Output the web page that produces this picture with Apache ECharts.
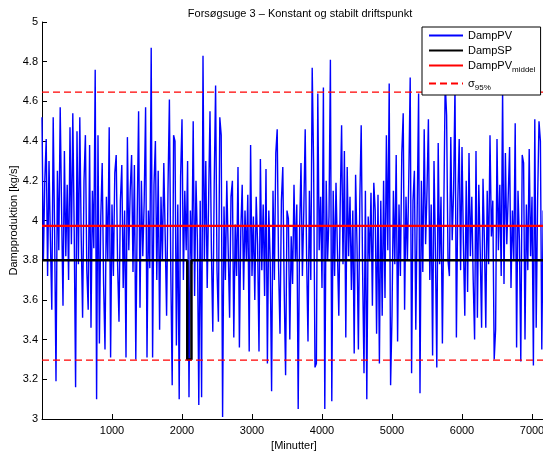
<!DOCTYPE html>
<html>
<head>
<meta charset="utf-8">
<script src="https://cdn.jsdelivr.net/npm/echarts@6/dist/echarts.min.js"></script>
<style>
  html, body { margin: 0; padding: 0; background: #fff; }
  #chart { width: 543px; height: 452px; }
</style>
</head>
<body>
<div id="chart"></div>
<script>
// sample step of the PV log in minutes
const sampleStep = 20;

// DampPV [kg/s] (one value per 20 min)
const dampPV = [
  4.52, 3.80, 4.20, 4.41, 3.72, 4.30, 3.90, 3.55, 4.52, 3.95,
  3.19, 4.25, 3.85, 4.57, 4.05, 3.57, 4.35, 3.82, 4.18, 3.70,
  4.47, 3.88, 4.54, 3.95, 3.16, 4.45, 3.78, 4.52, 3.92, 3.51,
  4.20, 4.43, 3.75, 3.55, 4.38, 3.46, 4.15, 3.86, 4.76, 3.10,
  4.43, 3.38, 4.02, 4.29, 3.68, 3.35, 4.12, 3.80, 4.47, 3.31,
  4.08, 3.72, 4.24, 4.33, 3.78, 3.49, 4.10, 4.28, 3.66, 4.05,
  3.31, 4.42, 3.85, 4.15, 4.33, 3.74, 4.28, 3.30, 4.02, 4.55,
  3.56, 4.20, 3.82, 4.10, 4.57, 3.31, 4.05, 3.76, 4.87, 3.31,
  4.18, 4.40, 3.70, 4.25, 3.45, 4.12, 3.80, 4.29, 3.92, 3.52,
  4.16, 4.61, 3.74, 3.17, 4.43, 4.40, 3.37, 4.08, 3.10, 4.22,
  4.51, 3.70, 4.15, 3.85, 4.30, 3.11, 4.05, 3.78, 4.50, 3.62,
  4.20, 3.90, 3.07, 4.10, 3.11, 4.83, 3.80, 4.30, 3.66, 4.10,
  4.55, 3.85, 3.44, 4.18, 4.68, 3.75, 3.49, 4.52, 4.43, 3.01,
  4.07, 3.70, 4.20, 3.85, 3.51, 4.12, 4.20, 3.41, 3.98, 3.72,
  4.27, 3.36, 3.95, 4.18, 3.65, 4.05, 3.80, 4.13, 3.34, 4.38,
  3.72, 4.02, 3.60, 4.12, 3.88, 3.34, 4.31, 3.75, 4.08, 3.62,
  4.26, 3.28, 4.05, 3.80, 3.14, 4.15, 3.70, 4.34, 4.46, 3.76,
  3.43, 4.10, 4.27, 3.65, 3.22, 4.05, 4.01, 3.40, 3.92, 3.68,
  4.18, 3.80, 4.08, 3.05, 3.95, 4.29, 3.72, 4.05, 4.46, 3.82,
  3.39, 4.15, 3.70, 4.77, 4.29, 3.26, 3.28, 4.64, 3.85, 4.12,
  3.66, 4.67, 3.05, 4.20, 3.80, 4.02, 4.81, 3.09, 4.15, 3.72,
  4.19, 3.85, 3.52, 4.08, 4.48, 3.78, 4.35, 3.41, 4.27, 3.82,
  4.12, 3.65, 4.05, 3.33, 4.23, 3.88, 3.35, 4.10, 4.48, 3.75,
  3.23, 4.15, 3.10, 4.02, 3.80, 4.14, 3.57, 4.19, 4.05, 3.43,
  4.13, 3.28, 4.10, 3.52, 4.20, 3.61, 4.43, 3.85, 4.69, 3.17,
  3.52, 4.15, 3.78, 4.33, 3.39, 4.08, 3.72, 4.34, 4.54, 3.55,
  4.12, 3.80, 4.22, 4.72, 3.23, 4.10, 4.25, 3.45, 4.05, 4.64,
  3.13, 4.20, 3.74, 4.46, 3.88, 4.15, 4.51, 3.70, 4.08, 3.32,
  4.30, 3.85, 3.26, 4.39, 3.78, 4.12, 3.38, 4.05, 4.70, 4.53,
  3.80, 3.72, 4.42, 3.90, 4.15, 4.68, 3.41, 4.10, 4.41, 3.75,
  4.37, 3.88, 3.52, 4.20, 3.64, 4.34, 3.82, 4.12, 3.70, 3.40,
  4.35, 3.51, 4.18, 3.85, 3.46, 4.21, 3.90, 3.46, 4.15, 3.78,
  4.43, 3.92, 4.10, 3.30, 3.45, 4.41, 3.85, 4.18, 3.72, 4.66,
  3.68, 4.34, 3.88, 4.12, 4.37, 3.66, 4.05, 3.80, 4.49, 3.36,
  4.15, 3.90, 3.29, 4.33, 4.29, 3.40, 4.08, 3.75, 4.36, 3.82,
  4.12, 3.27, 4.51, 3.46, 4.10, 4.50, 4.40, 3.35, 4.05, 3.80,
  4.20
];

// DampSP setpoint steps [minutter, kg/s]
const spTimes  = [0, 2075, 2075, 2135, 2135, 7200];
const spValues = [3.80, 3.80, 3.30, 3.30, 3.80, 3.80];

// mean and 95% band
const pvMiddel = 3.973;
const sigmaUpper = 4.647;
const sigmaLower = 3.297;

const xMax = 7200;

const chart = echarts.init(document.getElementById('chart'));

const pvData = dampPV.map((v, i) => [i * sampleStep, v]);
const spData = spTimes.map((t, i) => [t, spValues[i]]);

const font = 'Liberation Sans, Arial, Helvetica, sans-serif';
const sigmaStyle = { color: '#ff0000', width: 1.3, type: [7, 4] };

chart.setOption({
  animation: false,
  textStyle: { fontFamily: font },
  title: {
    text: 'Forsøgsuge 3 – Konstant og stabilt driftspunkt',
    left: 295,
    top: 3,
    textAlign: 'center',
    textStyle: { fontSize: 11, fontWeight: 'normal', color: '#000', fontFamily: font }
  },
  legend: {
    orient: 'vertical',
    left: 422,
    top: 27,
    padding: [3, 5, 3, 6],
    itemWidth: 34,
    itemHeight: 12,
    itemGap: 4,
    backgroundColor: '#fff',
    borderColor: '#000',
    borderWidth: 1,
    borderRadius: 0,
    itemStyle: { opacity: 0 },
    textStyle: {
      fontSize: 11,
      color: '#000',
      fontFamily: font,
      rich: {
        sub: { fontSize: 8, padding: [9, 0, 0, 0], color: '#000', fontFamily: font }
      }
    },
    formatter: function (name) {
      if (name === 'DampPV_middel') return 'DampPV{sub|middel}';
      if (name === 'sigma') return 'σ{sub|95%}';
      return name;
    },
    data: ['DampPV', 'DampSP', 'DampPV_middel', 'sigma']
  },
  grid: { left: 42, top: 22, width: 504, height: 397, outerBoundsMode: 'none', containLabel: false },
  xAxis: {
    type: 'value',
    min: 0,
    max: xMax,
    interval: 1000,
    name: '[Minutter]',
    nameLocation: 'middle',
    nameGap: 21,
    nameMoveOverlap: false,
    nameTextStyle: { fontSize: 11, color: '#000', fontFamily: font },
    axisLine: { lineStyle: { color: '#000', width: 1 } },
    axisTick: { inside: true, length: 5, lineStyle: { color: '#000' } },
    axisLabel: {
      fontSize: 11, color: '#000', margin: 6, showMinLabel: false, showMaxLabel: false,
      formatter: v => String(v)
    },
    splitLine: { show: false }
  },
  yAxis: {
    type: 'value',
    min: 3,
    max: 5,
    interval: 0.2,
    name: 'Dampproduktion [kg/s]',
    nameLocation: 'middle',
    nameGap: 23,
    nameMoveOverlap: false,
    nameTextStyle: { fontSize: 11, color: '#000', fontFamily: font },
    axisLine: { show: true, lineStyle: { color: '#000', width: 1 } },
    axisTick: { show: true, inside: true, length: 5, lineStyle: { color: '#000' } },
    axisLabel: { fontSize: 11, color: '#000', margin: 4 },
    splitLine: { show: false }
  },
  series: [
    {
      name: 'DampPV',
      type: 'line',
      data: pvData,
      symbol: 'none',
      lineStyle: { color: '#0000ff', width: 1.4 },
      itemStyle: { color: '#0000ff' }
    },
    {
      name: 'DampSP',
      type: 'line',
      data: spData,
      symbol: 'none',
      lineStyle: { color: '#000', width: 2.5 },
      itemStyle: { color: '#000' }
    },
    {
      name: 'DampPV_middel',
      type: 'line',
      data: [[0, pvMiddel], [xMax, pvMiddel]],
      symbol: 'none',
      lineStyle: { color: '#ff0000', width: 2.2 },
      itemStyle: { color: '#ff0000' }
    },
    {
      name: 'sigma',
      type: 'line',
      data: [[0, sigmaUpper], [xMax, sigmaUpper]],
      symbol: 'none',
      lineStyle: sigmaStyle,
      itemStyle: { color: '#ff0000' }
    },
    {
      name: 'sigma',
      type: 'line',
      data: [[0, sigmaLower], [xMax, sigmaLower]],
      symbol: 'none',
      lineStyle: sigmaStyle,
      itemStyle: { color: '#ff0000' }
    }
  ]
});
</script>
</body>
</html>
